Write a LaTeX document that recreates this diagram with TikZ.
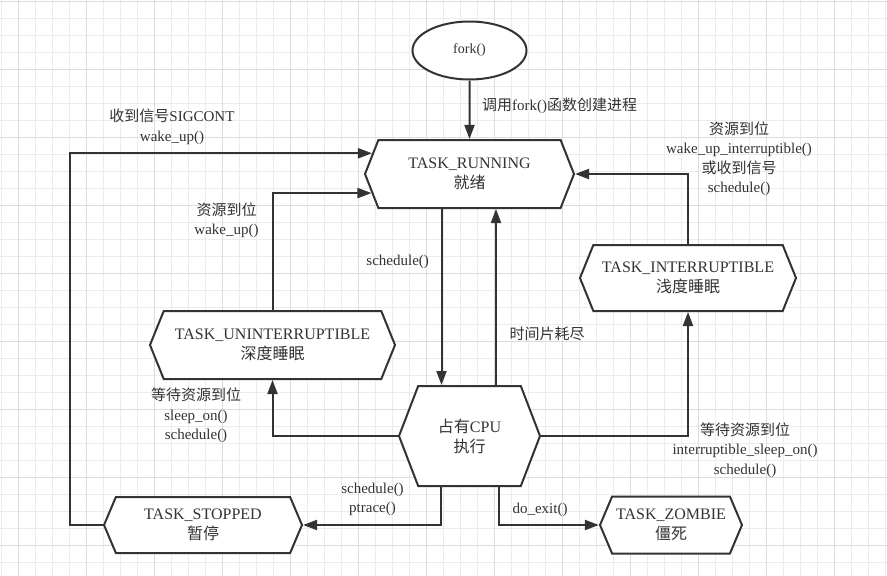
\documentclass[tikz,border=0pt]{standalone}
\usepackage{fontspec}
\setmainfont{Liberation Serif}
\newfontfamily\zhfont{Noto Sans CJK SC}
\usepackage{tikz}
\usetikzlibrary{arrows.meta,shapes.geometric,shapes.symbols,positioning}
\definecolor{lngray}{RGB}{51,51,51}
\definecolor{gridminor}{RGB}{236,236,236}
\definecolor{gridmajor}{RGB}{220,220,220}
\tikzstyle{taskstate} = [signal, signal to=west and east, signal pointer angle=136, minimum height=68pt, text centered, align=center, draw=lngray, fill=white, line width=2pt, text=lngray, font=\fontsize{16pt}{20pt}\selectfont]
\tikzstyle{forknode} = [ellipse, minimum width=114pt, minimum height=58pt, draw=lngray, fill=white, line width=2pt, text=lngray, font=\fontsize{14pt}{17pt}\selectfont]
\tikzstyle{arrow} = [line width=2pt,->,>={Triangle[length=14pt,width=10pt]},color=lngray]
\tikzstyle{tasklabel} = [text=lngray, align=center, inner sep=0pt, font=\fontsize{15pt}{19.5pt}\selectfont]

\begin{document}
\begin{tikzpicture}[x=1pt, y=-1pt, node distance=100pt]
\useasboundingbox (0,0) rectangle (887,576);
% Grid
\fill[white] (0,0) rectangle (887,576);
\foreach \x in {1.3,18.3,...,887} {\draw[gridminor, line width=1pt] (\x,0) -- (\x,576);}
\foreach \y in {1,18,...,576} {\draw[gridminor, line width=1pt] (0,\y) -- (887,\y);}
\foreach \x in {18.3,86.3,...,887} {\draw[gridmajor, line width=1pt] (\x,0) -- (\x,576);}
\foreach \y in {1,69,...,576} {\draw[gridmajor, line width=1pt] (0,\y) -- (887,\y);}

% Central node
\node (running) [taskstate, minimum width=209pt, signal pointer angle=137] at (469.5,174) {TASK\_RUNNING\\{\zhfont 就绪}};
\node (fork) [forknode, above of=running, yshift=23.5pt] {fork()};
\node (cpu) [taskstate, below of=running, yshift=-162pt, minimum width=141pt, minimum height=100pt, signal pointer angle=138] {{\zhfont 占有}CPU\\{\zhfont 执行}};

% State nodes
\node (unint) [taskstate, left of=cpu, xshift=-97pt, yshift=91pt, minimum width=245pt] {TASK\_UNINTERRUPTIBLE\\{\zhfont 深度睡眠}};
\node (interr) [taskstate, right of=cpu, xshift=118.5pt, yshift=158pt, minimum width=216pt, minimum height=66pt] {TASK\_INTERRUPTIBLE\\{\zhfont 浅度睡眠}};
\node (stopped) [taskstate, left of=cpu, xshift=-166.5pt, yshift=-89pt, minimum width=198pt, minimum height=56pt, signal pointer angle=134] {TASK\_STOPPED\\{\zhfont 暂停}};
\node (zombie) [taskstate, right of=cpu, xshift=101.5pt, yshift=-89pt, minimum width=142pt, minimum height=57pt, signal pointer angle=134] {TASK\_ZOMBIE\\{\zhfont 僵死}};
\coordinate (loop) at ([xshift=-33pt]stopped.west);

% Labels
\node (forklbl) [tasklabel, anchor=west] at (482,106) {{\zhfont 调用}fork(){\zhfont 函数创建进程}};
\node (contlbl) [tasklabel] at (172,127) {{\zhfont 收到信号}SIGCONT\\wake\_up()};
\node (wakelbl) [tasklabel] at (226.5,220) {{\zhfont 资源到位}\\wake\_up()};
\node (schedlbl) [tasklabel] at (397.7,262) {schedule()};
\node (slicelbl) [tasklabel] at (547,334) {{\zhfont 时间片耗尽}};
\node (sleeplbl) [tasklabel] at (196,415.5) {{\zhfont 等待资源到位}\\sleep\_on()\\schedule()};
\node (intwakelbl) [tasklabel] at (739,158.5) {{\zhfont 资源到位}\\wake\_up\_interruptible()\\{\zhfont 或收到信号}\\schedule()};
\node (intsleeplbl) [tasklabel] at (745,450) {{\zhfont 等待资源到位}\\interruptible\_sleep\_on()\\schedule()};
\node (stoplbl) [tasklabel] at (372.5,499.5) {schedule()\\ptrace()};
\node (exitlbl) [tasklabel] at (540,510) {do\_exit()};

% Arrows
\draw[arrow] (fork) -- (running);
\draw[arrow] ([xshift=-28pt]running.south) -- ([xshift=-28pt]cpu.north);
\draw[arrow] ([xshift=26.5pt]cpu.north) -- ([xshift=26.5pt]running.south);
\draw[arrow] (cpu.west) -| (unint.south);
\draw[arrow] (unint.north) |- (running.191);
\draw[arrow] (cpu.east) -| (interr.south);
\draw[arrow] (interr.north) |- (running.east);
\draw[arrow] ([xshift=-28.5pt]cpu.south) |- (stopped.east);
\draw[arrow] ([xshift=29.5pt]cpu.south) |- (zombie.west);
\draw[arrow] (stopped.west) -- (loop) |- (running.168);
\end{tikzpicture}
\end{document}
